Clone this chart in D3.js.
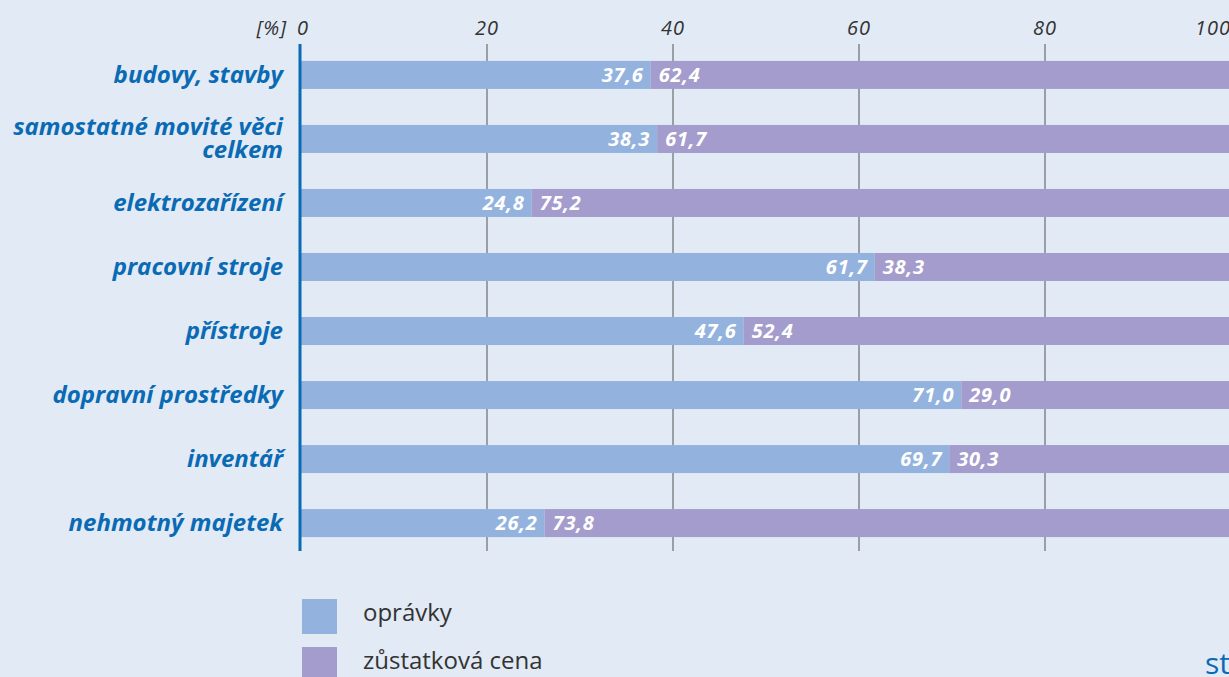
<!DOCTYPE html>
<html><head><meta charset="utf-8">
<script src="https://cdn.jsdelivr.net/npm/d3@7"></script>
<style>body{margin:0;background:#e1eaf5;overflow:hidden}</style>
</head><body>
<svg id="c" width="1229" height="677"></svg>
<script>
const categories = ["budovy, stavby","samostatné movité věci celkem","elektrozařízení","pracovní stroje","přístroje","dopravní prostředky","inventář","nehmotný majetek"];
const opravky = [37.6,38.3,24.8,61.7,47.6,71.0,69.7,26.2];
const zustatkova = [62.4,61.7,75.2,38.3,52.4,29.0,30.3,73.8];
const ticks = [0,20,40,60,80,100];
const seriesNames = ["oprávky","zůstatková cena"];
const colors = ["#93b3de","#a39ccc"];

const FONT = "'Open Sans', Lato, sans-serif";
const svg = d3.select("#c");
svg.append("rect").attr("width",1229).attr("height",677).attr("fill","#e1eaf5");
const x = d3.scaleLinear().domain([0,100]).range([301,1231]);
const y = d3.scaleBand().domain(categories).range([43,555]).paddingInner(0.5625).paddingOuter(0.28);
const fmt = v => v.toFixed(1).replace(".",",");

// gridlines
svg.append("g").selectAll("line").data(ticks.filter(t=>t>0)).join("line")
  .attr("x1",d=>x(d)).attr("x2",d=>x(d)).attr("y1",44).attr("y2",551)
  .attr("stroke","#555").attr("stroke-width",1);
// tick labels
svg.append("g").selectAll("text").data(ticks).join("text")
  .attr("x",d=>x(d)).attr("y",35).attr("text-anchor",d=>d===100?"end":"middle")
  .attr("dx",d=>d===0?2:0).attr("letter-spacing",1)
  .attr("font-family",FONT).attr("font-style","italic")
  .attr("font-size",20).attr("fill","#333").text(d=>d);
svg.append("text").attr("x",287).attr("y",35).attr("text-anchor","end").attr("letter-spacing",1)
  .attr("font-family",FONT).attr("font-style","italic")
  .attr("font-size",20).attr("fill","#333").text("[%]");

// bars
const rows = categories.map((c,i)=>({c,a:opravky[i],b:zustatkova[i]}));
const g = svg.append("g");
g.selectAll("rect.a").data(rows).join("rect").attr("class","a")
  .attr("x",x(0)).attr("y",d=>y(d.c)).attr("width",d=>x(d.a)-x(0)).attr("height",y.bandwidth()).attr("fill",colors[0]);
g.selectAll("rect.b").data(rows).join("rect").attr("class","b")
  .attr("x",d=>x(d.a)).attr("y",d=>y(d.c)).attr("width",d=>x(d.a+d.b)-x(d.a)).attr("height",y.bandwidth()).attr("fill",colors[1]);
const lab = sel => sel.attr("font-family",FONT).attr("font-style","italic")
  .attr("font-weight","bold").attr("font-size",20).attr("letter-spacing",0.8).attr("fill","#fff");
g.selectAll("text.a").data(rows).join("text").attr("class","a")
  .attr("x",d=>x(d.a)-7).attr("y",d=>y(d.c)+y.bandwidth()/2+7).attr("text-anchor","end").call(lab).text(d=>fmt(d.a));
g.selectAll("text.b").data(rows).join("text").attr("class","b")
  .attr("x",d=>x(d.a)+8).attr("y",d=>y(d.c)+y.bandwidth()/2+7).attr("text-anchor","start").call(lab).text(d=>fmt(d.b));

// axis line
svg.append("line").attr("x1",300).attr("x2",300).attr("y1",44).attr("y2",551).attr("stroke","#0a6ab4").attr("stroke-width",3);

// category labels (the long one wrapped onto two lines)
const catG = svg.append("g");
categories.forEach(d=>{
  const cy = y(d)+y.bandwidth()/2;
  const lines = d==="samostatné movité věci celkem" ? ["samostatné movité věci","celkem"] : [d];
  const y0 = lines.length>1 ? cy-4 : cy+8;
  lines.forEach((ln,j)=>{
    catG.append("text").attr("x",283).attr("y",y0+j*23)
      .attr("text-anchor","end").attr("font-family",FONT)
      .attr("font-style","italic").attr("font-weight","bold").attr("font-size",24).attr("fill","#0a6ab4").text(ln);
  });
});

// legend
const lg = svg.append("g");
seriesNames.forEach((n,i)=>{
  lg.append("rect").attr("x",302).attr("y",599+i*48).attr("width",35).attr("height",35).attr("fill",colors[i]);
  lg.append("text").attr("x",363).attr("y",621+i*48).attr("font-family",FONT)
    .attr("font-size",24).attr("fill","#333").text(n);
});
svg.append("text").attr("x",1205).attr("y",674).attr("font-family",FONT)
  .attr("font-size",30).attr("fill","#0a6ab4").text("st");
</script>
</body></html>
